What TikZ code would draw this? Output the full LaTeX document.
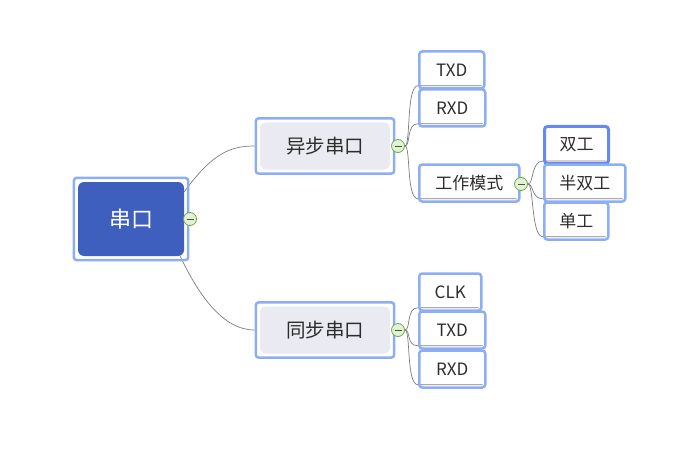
\documentclass[tikz,border=0pt]{standalone}
\usepackage{fontspec}
\setmainfont{Noto Sans CJK SC}
\usetikzlibrary{calc, fit, backgrounds}
\definecolor{rootc}{RGB}{63,95,190}
\definecolor{framec}{RGB}{141,173,245}
\definecolor{selc}{RGB}{104,135,240}
\definecolor{midc}{RGB}{233,234,242}
\definecolor{linkc}{RGB}{125,125,125}
\definecolor{textc}{RGB}{45,45,45}
\definecolor{foldc}{RGB}{110,172,62}
\definecolor{foldf}{RGB}{228,240,218}

\tikzset{
  rootbox/.style={fill=rootc, rounded corners=6pt, minimum width=106, minimum height=74,
    text=white, font=\fontsize{22}{26}\selectfont},
  midbox/.style={fill=midc, rounded corners=6pt, minimum width=130, minimum height=47,
    text=textc, font=\fontsize{19.5}{23}\selectfont},
  selframe/.style={draw=framec, line width=2.5pt, rounded corners=3pt, inner sep=4pt},
  leaf/.style={draw=framec, line width=2.5pt, rounded corners=3pt, minimum height=37,
    inner sep=0pt, anchor=west, text=textc, font=\fontsize{17}{20}\selectfont},
  selleaf/.style={leaf, draw=selc, line width=3pt},
  fold/.style={circle, draw=foldc, fill=foldf, line width=0.8pt, minimum size=13, inner sep=0pt,
    path picture={\draw[foldc!55!black, line width=0.9pt]
      ($(path picture bounding box.center)+(-3.5,0)$) -- +(7,0);}},
  link/.style={draw=linkc, line width=0.7pt},
}

\begin{document}
\begin{tikzpicture}[x=1pt, y=-1pt]
\useasboundingbox (0,0) rectangle (700,457);

%% ── centre topic ─────────────────────────────────
\node[rootbox] (root) at (131,219) {串口};
\node[selframe, fit=(root)] (rootf) {};

%% ── main topics ──────────────────────────────────
\node[midbox] (async) at (325,146) {异步串口};
\node[selframe, fit=(async)] (asyncf) {};
\node[midbox] (sync) at (325,330) {同步串口};
\node[selframe, fit=(sync)] (syncf) {};

%% ── sub topics: name/x/y/width/style/text ────────
\foreach \n/\x/\y/\w/\s/\t in {atxd/418/70/65/leaf/TXD, arxd/418/108/66/leaf/RXD,
    mode/418/183/100/leaf/工作模式, clk/418/292/62/leaf/CLK, stxd/418/330/66/leaf/TXD,
    srxd/418/369/66/leaf/RXD, duplex/543/145/64/selleaf/双工, half/543/183/81/leaf/半双工,
    simplex/543/221/64/leaf/单工}{
  \node[\s, minimum width=\w] (\n) at (\x,\y) {\t};
}

%% ── collapse buttons ─────────────────────────────
\node[fold] (fr) at (190,219) {};
\node[fold] (fa) at (398,146) {};
\node[fold] (fs) at (398,330) {};
\node[fold] (fm) at (521,184) {};

%% ── connectors (behind everything) ───────────────
\begin{scope}[on background layer]
  \draw[link] ($(root.north east)+(0,10)$) .. controls +(28,-38) and +(-25,0) .. (asyncf.west);
  \draw[link] ($(root.south east)+(-4,0)$) .. controls +(18,38) and +(-32,0) .. (syncf.west);
  \foreach \f/\n in {fa/atxd, fa/arxd, fa/mode, fs/clk, fs/stxd, fs/srxd,
      fm/duplex, fm/half, fm/simplex}{
    \draw[link] (\f.east) .. controls +(6,0) and +(-12,0) .. ($(\n.south west)+(0,-4)$)
      -- ($(\n.south east)+(-4,-4)$);
  }
\end{scope}

\end{tikzpicture}
\end{document}
